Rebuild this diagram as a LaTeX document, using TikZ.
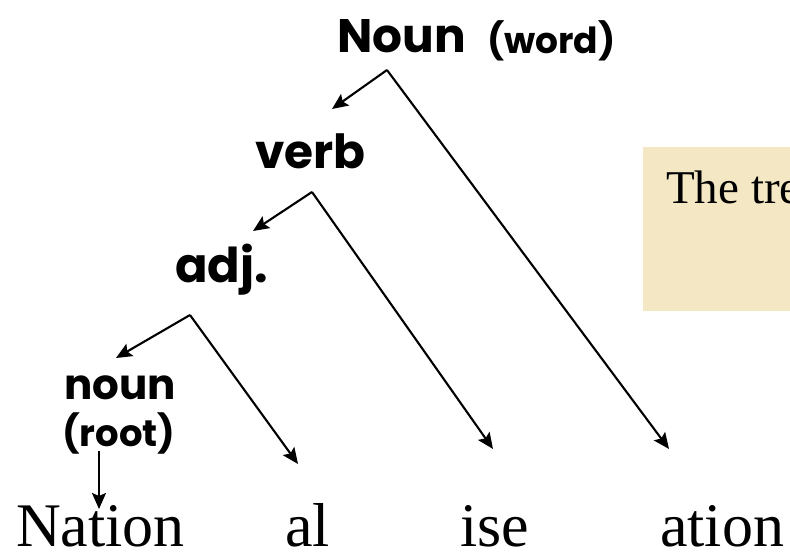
\documentclass[tikz,border=0pt]{standalone}
\usepackage{fontspec}
\setmainfont{Liberation Serif}
\newfontfamily\comic{Poppins}
\usetikzlibrary{arrows.meta}
\definecolor{boxfill}{HTML}{F3E8C3}
\tikzset{
  lbl/.style={inner sep=0pt, anchor=base west, text depth=0pt},
  morph/.style={inner sep=0pt, anchor=base west, text depth=0pt, font=\fontsize{62}{62}\selectfont},
  conn/.style={line width=2.1pt, -{Stealth[length=16pt,width=14pt,inset=3pt]}}
}
\begin{document}
\begin{tikzpicture}[x=1pt,y=-1pt]
\useasboundingbox (0,0) rectangle (790,554);
\clip (0,0) rectangle (790,554);
% note box
\fill[boxfill] (643,147) rectangle (800,311);
\node[inner sep=0pt, anchor=base west, text depth=0pt, font=\fontsize{47}{47}\selectfont] (note) at (666,203) {The tre};
% labels
\node[lbl, font=\comic\bfseries\fontsize{47}{47}\selectfont] (Noun) at (337,52) {Noun};
\node[lbl, font=\comic\bfseries\fontsize{36}{36}\selectfont] (word) at (487,53) {(word)};
\node[lbl, font=\comic\bfseries\fontsize{47}{47}\selectfont] (verb) at (255,168) {verb};
\node[lbl, font=\comic\bfseries\fontsize{48}{48}\selectfont] (adj) at (175,282) {adj.};
\node[lbl, font=\comic\bfseries\fontsize{42}{42}\selectfont] (noun) at (64,399) {noun};
\node[lbl, font=\comic\bfseries\fontsize{37}{37}\selectfont] (root) at (62,446) {(root)};
% morphemes
\node[morph] (nation) at (16,546) {Nation};
\node[morph] (al) at (285,546) {al};
\node[morph] (ise) at (460,546) {ise};
\node[morph] (ation) at (660,546) {ation};
% branch points and arrow ends
\coordinate (p1) at (387,70);
\coordinate (t1) at (332,109);
\coordinate (e1) at (669,449);
\coordinate (p2) at (312,192);
\coordinate (t2) at (253,231);
\coordinate (e2) at (493,449);
\coordinate (p3) at (190,315);
\coordinate (t3) at (116,358);
\coordinate (e3) at (298,464);
\coordinate (s0) at (99,451);
\coordinate (s1) at (99,509);
\draw[conn] (p1) -- (t1);
\draw[conn] (p1) -- (e1);
\draw[conn] (p2) -- (t2);
\draw[conn] (p2) -- (e2);
\draw[conn] (p3) -- (t3);
\draw[conn] (p3) -- (e3);
\draw[conn] (s0) -- (s1);
\end{tikzpicture}
\end{document}
